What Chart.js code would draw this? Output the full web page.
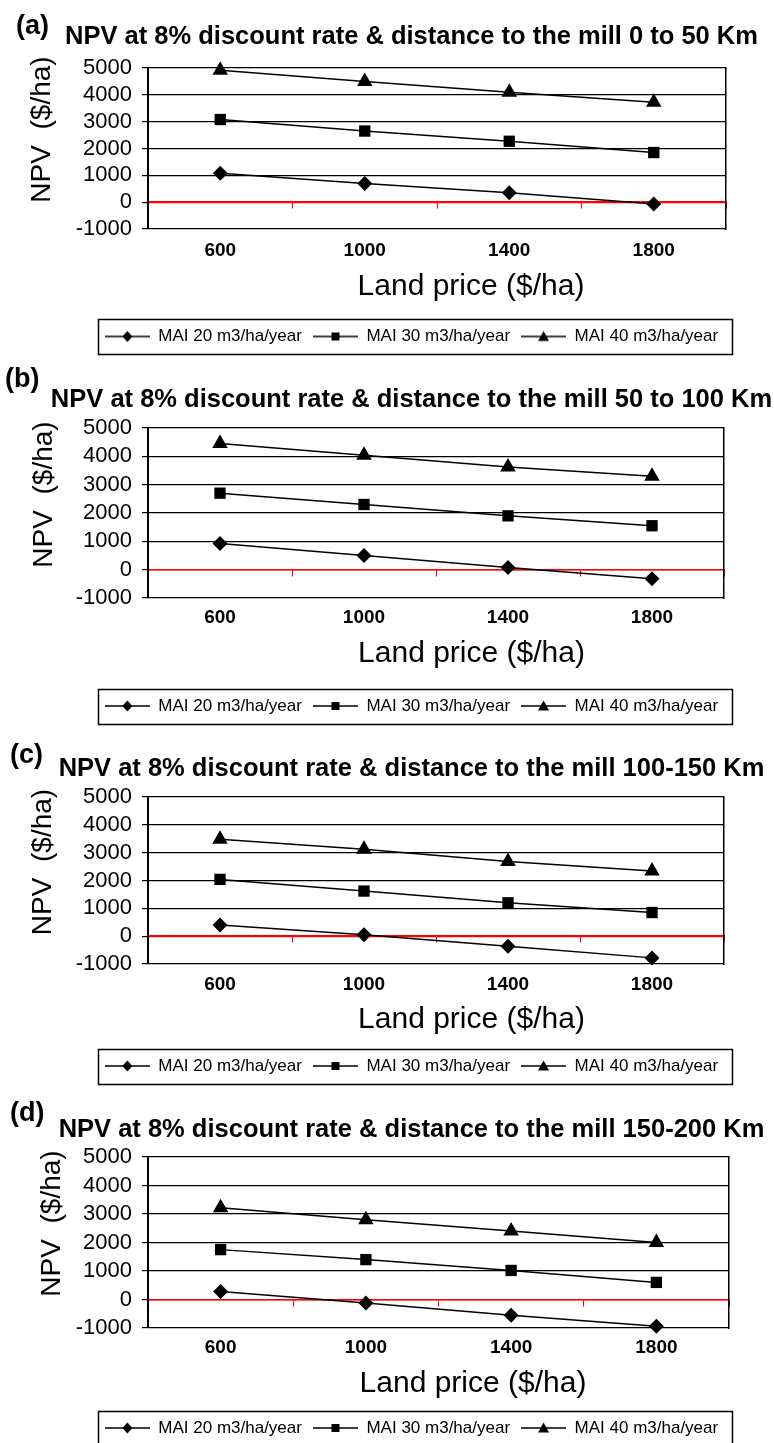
<!DOCTYPE html>
<html>
<head>
<meta charset="utf-8">
<title>NPV vs land price</title>
<script src="https://cdn.jsdelivr.net/npm/chart.js@4.4.1/dist/chart.umd.min.js"></script>
<style>
  body { margin: 0; background: #fff; }
  #wrap { position: relative; width: 774px; height: 1443px; overflow: hidden; background: #fff; }
  #wrap canvas { position: absolute; left: 0; }
</style>
</head>
<body>
<div id="wrap">
  <canvas id="chartA" width="774" height="360" style="top:0px"></canvas>
  <canvas id="chartB" width="774" height="369" style="top:360px"></canvas>
  <canvas id="chartC" width="774" height="360" style="top:729px"></canvas>
  <canvas id="chartD" width="774" height="354" style="top:1089px"></canvas>
</div>
<script>
// ==================== DATA ====================
const landPrice = ["600", "1000", "1400", "1800"];
const seriesNames = ["MAI 20 m3/ha/year", "MAI 30 m3/ha/year", "MAI 40 m3/ha/year"];
const yMin = -1000;
const yMax = 5000;
const yStep = 1000;

// (a) 0 to 50 Km
const mai20A = [1080, 700, 350, -70];
const mai30A = [3080, 2650, 2270, 1850];
const mai40A = [4920, 4500, 4100, 3720];
// (b) 50 to 100 Km
const mai20B = [920, 500, 80, -320];
const mai30B = [2700, 2300, 1900, 1550];
const mai40B = [4450, 4040, 3620, 3300];
// (c) 100-150 Km
const mai20C = [400, 50, -360, -780];
const mai30C = [2040, 1620, 1200, 850];
const mai40C = [3480, 3120, 2680, 2340];
// (d) 150-200 Km
const mai20D = [280, -120, -550, -940];
const mai30D = [1750, 1400, 1020, 600];
const mai40D = [3220, 2800, 2400, 2000];

const titleA = "NPV at 8% discount rate & distance to the mill 0 to 50 Km";
const titleB = "NPV at 8% discount rate & distance to the mill 50 to 100 Km";
const titleC = "NPV at 8% discount rate & distance to the mill 100-150 Km";
const titleD = "NPV at 8% discount rate & distance to the mill 150-200 Km";
const yTitle = "NPV  ($/ha)";
const xTitle = "Land price ($/ha)";

const FONT = '"Liberation Sans", Arial, Helvetica, sans-serif';
Chart.defaults.font.family = FONT;
Chart.defaults.color = "#000";

const markerStyles = ["rectRot", "rect", "triangle"];
const markerSizes = [7.5, 8, 9];

// ==================== LEGEND ICONS (line + marker) ====================
function makeIcon(kind) {
  const c = document.createElement("canvas");
  c.width = 45; c.height = 14;
  const g = c.getContext("2d");
  g.strokeStyle = "#000";
  g.fillStyle = "#000";
  g.lineWidth = 1.3;
  g.beginPath(); g.moveTo(0, 7); g.lineTo(45, 7); g.stroke();
  g.beginPath();
  if (kind === "rectRot") {
    g.moveTo(22.5, 1.5); g.lineTo(27.5, 7); g.lineTo(22.5, 12.5); g.lineTo(17.5, 7);
  } else if (kind === "rect") {
    g.rect(18.5, 3, 8, 8);
  } else {
    g.moveTo(22.5, 1.5); g.lineTo(28, 11.5); g.lineTo(17, 11.5);
  }
  g.closePath(); g.fill();
  return c;
}
const legendIcons = markerStyles.map(makeIcon);

// ==================== PLUGINS ====================
const legendFrame = {
  id: "legendFrame",
  afterDraw(chart) {
    const boxes = chart.legend && chart.legend.legendHitBoxes;
    if (!boxes || !boxes.length) return;
    const left = Math.min(...boxes.map(b => b.left)) - 7;
    const right = Math.max(...boxes.map(b => b.left + b.width)) + 14;
    const top = boxes[0].top - 9;
    const ctx = chart.ctx;
    ctx.save();
    ctx.strokeStyle = "#000";
    ctx.lineWidth = 1.5;
    ctx.strokeRect(Math.round(left) + 0.5, Math.round(top) + 0.5, Math.round(right - left), boxes[0].height + 18);
    ctx.restore();
  }
};

const panelText = {
  id: "panelText",
  afterDraw(chart, args, o) {
    const ctx = chart.ctx;
    ctx.save();
    ctx.fillStyle = "#000";
    // panel letter
    ctx.font = "bold 27px " + FONT;
    ctx.textAlign = "left";
    ctx.textBaseline = "middle";
    ctx.fillText(o.letter, o.letterX, o.letterMid);
    // x axis title
    ctx.font = "30px " + FONT;
    ctx.textAlign = "center";
    ctx.textBaseline = "alphabetic";
    ctx.fillText(xTitle, o.xTitleX, o.xTitleBase);
    // y axis title
    ctx.translate(o.yTitleX, o.yTitleMid);
    ctx.rotate(-Math.PI / 2);
    ctx.font = "28px " + FONT;
    ctx.textBaseline = "middle";
    ctx.fillText(yTitle, 0, 0);
    ctx.restore();
  }
};

// ==================== PANELS ====================
const PLOT_LEFT = 148;
const PLOT_TOP = 68;
const PAD_LEFT = 49;

const panels = [
  { id: "chartA", letter: "(a)", title: titleA, series: [mai20A, mai30A, mai40A], h: 360,
    titleMid: 36.5, plotBottom: 229, plotRight: 726, xLabelMid: 251, legendMid: 336,
    letterX: 16, letterMid: 27, yTitleX: 42.5, yTitleMid: 129.5, xTitleX: 471, xTitleBase: 295 },
  { id: "chartB", letter: "(b)", title: titleB, series: [mai20B, mai30B, mai40B], h: 369,
    titleMid: 39.5, plotBottom: 238, plotRight: 724, xLabelMid: 257.5, legendMid: 345.5,
    letterX: 5, letterMid: 19.5, yTitleX: 44.5, yTitleMid: 134.5, xTitleX: 471.5, xTitleBase: 302 },
  { id: "chartC", letter: "(c)", title: titleC, series: [mai20C, mai30C, mai40C], h: 360,
    titleMid: 40, plotBottom: 235, plotRight: 724, xLabelMid: 256, legendMid: 336.5,
    letterX: 10, letterMid: 26.5, yTitleX: 43, yTitleMid: 133, xTitleX: 471.5, xTitleBase: 299 },
  { id: "chartD", letter: "(d)", title: titleD, series: [mai20D, mai30D, mai40D], h: 354,
    titleMid: 41, plotBottom: 239, plotRight: 729, xLabelMid: 258.5, legendMid: 338.5,
    letterX: 10, letterMid: 24.5, yTitleX: 52, yTitleMid: 134.5, xTitleX: 473, xTitleBase: 303 }
];

function drawPanel(p) {
  const legendTop = p.legendMid - 19;
  const xHeight = legendTop - p.plotBottom;
  const padBottom = p.h - legendTop - 34;
  const tickPad = p.xLabelMid - p.plotBottom - 19 * 1.2 / 2;

  const datasets = p.series.map((vals, i) => ({
    label: seriesNames[i],
    data: vals,
    xAxisID: "x",
    yAxisID: "y",
    borderColor: "#000",
    backgroundColor: "#000",
    borderWidth: 1.5,
    pointStyle: markerStyles[i],
    pointRadius: markerSizes[i],
    pointBackgroundColor: "#000",
    pointBorderColor: "#000",
    pointBorderWidth: 0,
    tension: 0,
    fill: false,
    clip: false
  }));

  new Chart(document.getElementById(p.id), {
    type: "line",
    data: { labels: landPrice, datasets: datasets },
    options: {
      responsive: false,
      animation: false,
      devicePixelRatio: 1,
      events: [],
      layout: { padding: { left: PAD_LEFT, right: 0, top: 0, bottom: padBottom } },
      plugins: {
        title: {
          display: true,
          text: p.title,
          color: "#000",
          font: { size: 25.5, weight: "bold" },
          padding: { top: p.titleMid - 15.3, bottom: PLOT_TOP - p.titleMid - 15.3 }
        },
        legend: {
          display: true,
          position: "bottom",
          maxHeight: 34,
          labels: {
            usePointStyle: true,
            pointStyleWidth: 45,
            padding: 11,
            color: "#000",
            font: { size: 17 },
            generateLabels: (chart) => Chart.defaults.plugins.legend.labels.generateLabels(chart)
              .map((it, i) => ({ ...it, pointStyle: legendIcons[i], lineWidth: 0 }))
          }
        },
        tooltip: { enabled: false },
        panelText: p
      },
      scales: {
        x: {
          type: "category",
          position: "bottom",
          offset: true,
          grid: { display: false, drawTicks: false },
          border: { display: false },
          ticks: { color: "#000", font: { size: 19, weight: "bold" }, padding: tickPad, maxRotation: 0, autoSkip: false },
          afterFit: (s) => { s.height = xHeight; }
        },
        x0: {
          type: "category",
          axis: "x",
          position: { y: 0 },
          offset: true,
          grid: { offset: true, drawOnChartArea: false, drawTicks: true, tickLength: 6, color: "#ff0000", lineWidth: 1 },
          border: { display: true, color: "#ff0000", width: 1.5 },
          ticks: { display: false }
        },
        y: {
          position: "left",
          min: yMin,
          max: yMax,
          ticks: { stepSize: yStep, autoSkip: false, color: "#000", font: { size: 22 }, padding: 10, callback: (v) => String(v) },
          grid: {
            color: (c) => (c.tick && c.tick.value === 0 ? "#ff0000" : "#000"),
            tickColor: "#000",
            lineWidth: 1.2,
            tickLength: 6
          },
          border: { display: true, color: "#000", width: 2 },
          afterFit: (s) => { s.width = PLOT_LEFT - PAD_LEFT; }
        },
        yr: {
          position: "right",
          axis: "y",
          min: yMin,
          max: yMax,
          ticks: { display: false },
          grid: { display: false, drawTicks: false },
          border: { display: true, color: "#000", width: 1.5 },
          afterFit: (s) => { s.width = 774 - p.plotRight; }
        }
      }
    },
    plugins: [legendFrame, panelText]
  });
}

panels.forEach(drawPanel);
</script>
</body>
</html>
